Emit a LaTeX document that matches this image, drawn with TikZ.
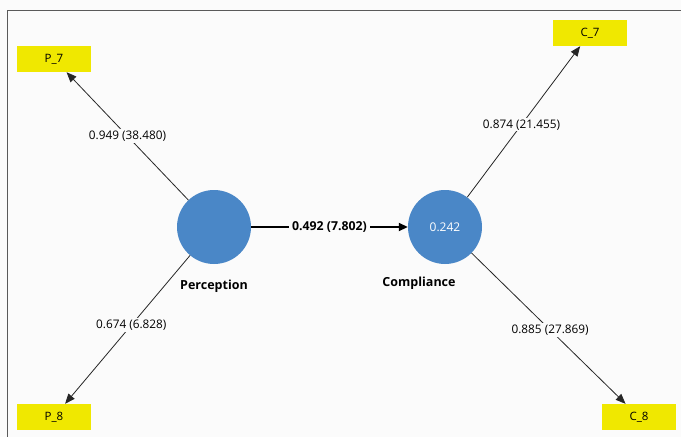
\documentclass[tikz,border=0pt]{standalone}
\usepackage{fontspec}
\setmainfont{Open Sans}
\usetikzlibrary{arrows.meta}
\definecolor{bg}{RGB}{251,251,251}
\definecolor{lvblue}{RGB}{74,135,199}
\definecolor{ind}{RGB}{240,232,0}
\definecolor{frame}{RGB}{90,90,90}
\begin{document}
\begin{tikzpicture}[x=1pt,y=-1pt,
  indbox/.style={fill=ind, minimum width=74pt, minimum height=26pt, inner sep=0pt, font=\fontsize{11.5}{13}\selectfont},
  lv/.style={circle, fill=lvblue, minimum size=74pt, inner sep=0pt, text=white, font=\fontsize{12}{14}\selectfont},
  lvname/.style={font=\bfseries\fontsize{12.5}{15}\selectfont},
  load/.style={draw=black!85, line width=0.8pt, -{Triangle[length=10pt,width=8pt]}},
  path/.style={draw=black, line width=1.8pt, -{Triangle[length=9pt,width=8pt]}},
  lbl/.style={fill=bg, inner sep=1.5pt, font=\fontsize{11.8}{14}\selectfont},
  blbl/.style={fill=bg, inner xsep=3pt, inner ysep=2pt, font=\bfseries\fontsize{12.3}{14}\selectfont}]
\fill[bg] (0,0) rectangle (681,437);
\useasboundingbox (0,0) rectangle (681,437);
\draw[frame, line width=1pt] (7,437) -- (7,10) -- (681,10);
\node[lv] (per) at (214,227) {};
\node[lv] (com) at (445,227) {0.242};
\node[lvname] (perl) at (214,286) {Perception};
\node[lvname] (coml) at (419,283) {Compliance};
\node[indbox] (p7) at (54,59) {P\_7};
\node[indbox] (p8) at (54,417) {P\_8};
\node[indbox] (c7) at (590,33) {C\_7};
\node[indbox] (c8) at (639,417) {C\_8};
\draw[load] (per) -- (p7) node[lbl, pos=0.5] (l1) {0.949 (38.480)};
\draw[load] (per) -- (p8) node[lbl, pos=0.47] (l2) {0.674 (6.828)};
\draw[load] (com) -- (c7) node[lbl, pos=0.48] (l3) {0.874 (21.455)};
\draw[load] (com) -- (c8) node[lbl, pos=0.51] (l4) {0.885 (27.869)};
\draw[path] (per) -- (com) node[blbl, pos=0.5] (l5) {0.492 (7.802)};
\end{tikzpicture}
\end{document}
